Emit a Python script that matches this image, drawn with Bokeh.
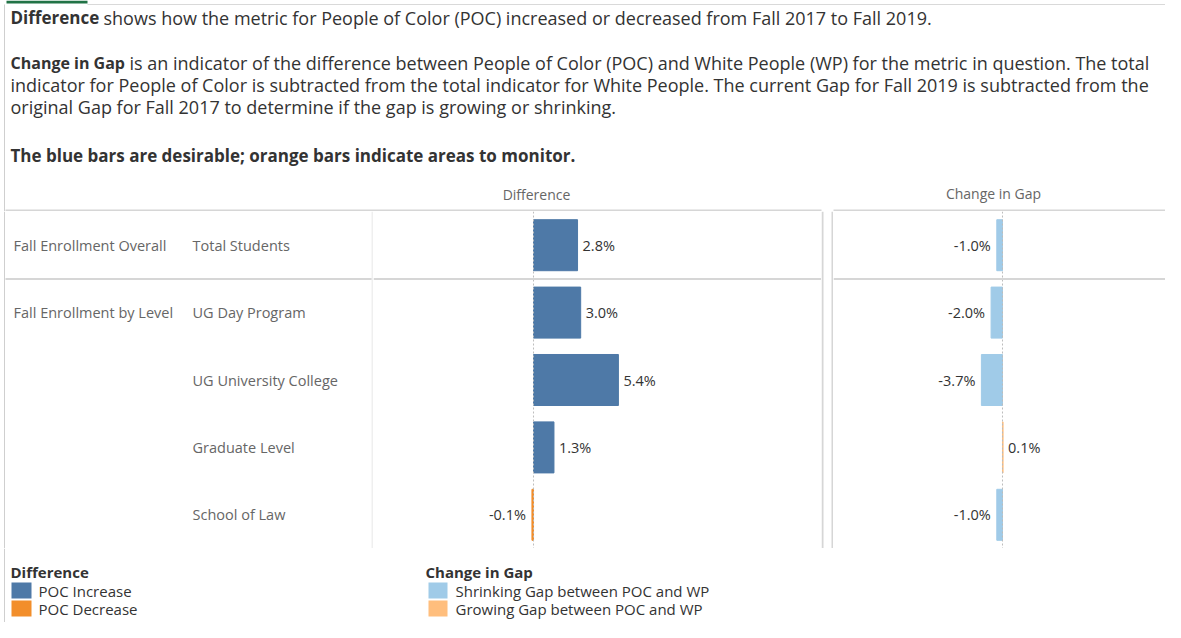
from bokeh.plotting import figure
from bokeh.layouts import column, row
from bokeh.models import Range1d, Span, ColumnDataSource
from bokeh.embed import file_html
from bokeh.resources import INLINE
from bokeh.core.properties import value

# ---------------- data ----------------
group_names = ["Fall Enrollment Overall", "Fall Enrollment by Level"]
group_first_row = [0, 1]
categories = ["Total Students", "UG Day Program", "UG University College",
              "Graduate Level", "School of Law"]
difference = [2.8, 3.0, 5.4, 1.3, -0.1]
change_in_gap = [-1.0, -2.0, -3.7, 0.1, -1.0]

col_titles = ["Difference", "Change in Gap"]
legend_diff_title = "Difference"
legend_diff_labels = ["POC Increase", "POC Decrease"]
legend_gap_title = "Change in Gap"
legend_gap_labels = ["Shrinking Gap between POC and WP", "Growing Gap between POC and WP"]

C_INC, C_DEC = "#4e79a7", "#f28e2b"
C_SHRINK, C_GROW = "#a0cbe8", "#ffbe7d"

FONT = "Open Sans"
TXT = "#333333"
GRAY = "#666666"
LINE = "#d6d6d6"
EDGE = "#cfcfcf"

TOTAL_W = 1165
HDR_H, ROWS_H, LEG_H = 211, 337, 74
LAB_W, DIFF_W, GAP_W = 373, 448, 12
CHG_W = TOTAL_W - LAB_W - DIFF_W - GAP_W


def blank(w, h, xr, yr):
    p = figure(width=w, height=h, x_range=xr, y_range=yr, output_backend="svg",
               toolbar_location=None, tools="", x_axis_location=None,
               y_axis_location=None, min_border=0, outline_line_color=None,
               background_fill_color="white", border_fill_color="white")
    p.grid.visible = False
    return p


def txt(p, x, y, s, size="18px", bold=False, color=TXT, align="left"):
    p.text(x=[x], y=[y], text=[s], text_font=value(FONT), text_font_size=size,
           text_font_style="bold" if bold else "normal", text_color=color,
           text_align=align, text_baseline="middle")


# ---------------- header ----------------
hdr = blank(TOTAL_W, HDR_H, Range1d(0, TOTAL_W), Range1d(HDR_H, 0))
# sheet frame: green tab marker, top rule, left rule
hdr.segment(x0=[6], y0=[1.5], x1=[87], y1=[1.5], line_color="#217346", line_width=3)
hdr.segment(x0=[87], y0=[4], x1=[TOTAL_W], y1=[4], line_color="#d9d9d9", line_width=1)
hdr.segment(x0=[4], y0=[4], x1=[4], y1=[HDR_H], line_color=EDGE, line_width=1)

txt(hdr, 10, 17, "Difference", size="17px", bold=True)
txt(hdr, 103, 17, "shows how the metric for People of Color (POC) increased or decreased from Fall 2017 to Fall 2019.")
txt(hdr, 10, 62, "Change in Gap", size="16px", bold=True)
txt(hdr, 129, 62, "is an indicator of the difference between People of Color (POC) and White People (WP) for the metric in question.  The total")
txt(hdr, 10, 84, "indicator for People of Color is subtracted from the total indicator for White People. The current Gap for Fall 2019 is subtracted from the")
txt(hdr, 10, 106, "original Gap for Fall 2017 to determine if the gap is growing or shrinking.")
txt(hdr, 10, 155, "The blue bars are desirable; orange bars indicate areas to monitor.", size="17px", bold=True)
txt(hdr, 536, 194, col_titles[0], size="14px", color=GRAY, align="center")
txt(hdr, 993, 193, col_titles[1], size="14px", color=GRAY, align="center")
hdr.segment(x0=[5, 833], y0=[210, 210], x1=[821, TOTAL_W], y1=[210, 210],
            line_color=LINE, line_width=2)

n = len(categories)
ys = [i + 0.5 for i in range(n)]

# ---------------- row labels ----------------
lab = blank(LAB_W, ROWS_H, Range1d(0, LAB_W), Range1d(n, 0))
for g, r in zip(group_names, group_first_row):
    txt(lab, 13, ys[r], g, size="14.5px", color=GRAY)
for c, y in zip(categories, ys):
    txt(lab, 192, y, c, size="14.5px", color=GRAY)
lab.segment(x0=[5], y0=[1.0], x1=[LAB_W], y1=[1.0], line_color=LINE, line_width=2)
lab.segment(x0=[LAB_W - 1], y0=[0], x1=[LAB_W - 1], y1=[n], line_color="#efefef", line_width=2)
lab.segment(x0=[4], y0=[0], x1=[4], y1=[n], line_color=EDGE, line_width=1)


def bar_panel(w, xr, vals, pos_color, neg_color):
    p = blank(w, ROWS_H, xr, Range1d(n, 0))
    colors = [(pos_color if v >= 0 else neg_color) for v in vals]
    src = ColumnDataSource(dict(
        y=ys, v=vals, color=colors,
        label=[f"{v:.1f}%" for v in vals],
        align=["left" if v >= 0 else "right" for v in vals],
        xoff=[5 if v >= 0 else -6 for v in vals],
    ))
    p.add_layout(Span(location=0, dimension="height", line_color="#bdbdbd",
                      line_dash="2 2", line_width=1))
    p.hbar(y="y", height=0.757, left=0, right="v", fill_color="color",
           line_color="color", line_width=1, source=src)
    p.text(x="v", y="y", text="label", x_offset="xoff", text_align="align",
           text_baseline="middle", text_font=value(FONT), text_font_size="14.5px",
           text_color=TXT, source=src)
    p.add_layout(Span(location=1.0, dimension="width", line_color=LINE, line_width=2))
    return p


diff = bar_panel(DIFF_W, Range1d(-10.18, 18.32), difference, C_INC, C_DEC)
chg = bar_panel(CHG_W, Range1d(-29.65, 28.6), change_in_gap, C_GROW, C_SHRINK)

gap = blank(GAP_W, ROWS_H, Range1d(0, GAP_W), Range1d(ROWS_H, 0))
gap.segment(x0=[1, 11], y0=[0, 0], x1=[1, 11], y1=[ROWS_H, ROWS_H],
            line_color=LINE, line_width=2)

# ---------------- legend ----------------
leg = blank(TOTAL_W, LEG_H, Range1d(0, TOTAL_W), Range1d(LEG_H, 0))
leg.segment(x0=[4], y0=[0], x1=[4], y1=[LEG_H], line_color=EDGE, line_width=1)
txt(leg, 10, 23, legend_diff_title, size="15px", bold=True)
txt(leg, 425, 23, legend_gap_title, size="15px", bold=True)
row_y = [42, 60]
leg.quad(left=[11, 11], right=[31, 31], top=[y - 8 for y in row_y],
         bottom=[y + 8 for y in row_y], fill_color=[C_INC, C_DEC], line_color=None)
leg.quad(left=[428, 428], right=[447, 447], top=[y - 8 for y in row_y],
         bottom=[y + 8 for y in row_y], fill_color=[C_SHRINK, C_GROW], line_color=None)
for s, y in zip(legend_diff_labels, row_y):
    txt(leg, 38, y, s, size="15px")
for s, y in zip(legend_gap_labels, row_y):
    txt(leg, 455, y, s, size="15px")

layout = column(hdr, row(lab, diff, gap, chg), leg, spacing=0)
open("out.html", "w").write(file_html(layout, INLINE))
